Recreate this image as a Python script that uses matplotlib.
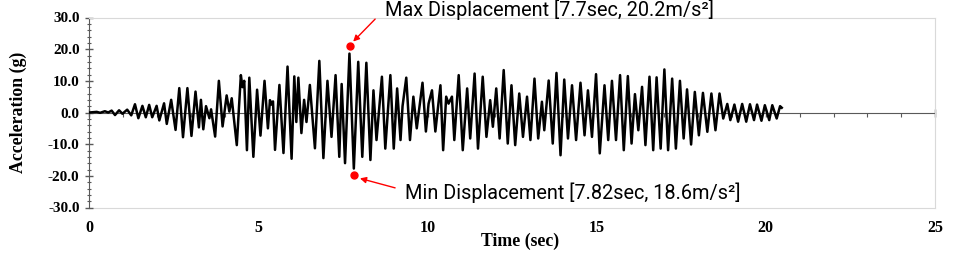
"""Acceleration time history with max/min markers."""
import matplotlib
matplotlib.use("Agg")
import matplotlib.pyplot as plt
from matplotlib.ticker import MultipleLocator

# peaks and troughs
time_s = [
    0.00, 0.22, 0.32, 0.46, 0.56, 0.66, 0.76, 0.88, 0.98, 1.12, 1.24,
    1.35, 1.45, 1.57, 1.67, 1.77, 1.86, 1.99, 2.07, 2.21, 2.29, 2.42, 2.55,
    2.66, 2.77, 2.90, 3.02, 3.14, 3.24, 3.30, 3.37, 3.45, 3.55, 3.60, 3.72,
    3.83, 3.94, 4.06, 4.14, 4.21, 4.36, 4.48, 4.53, 4.58, 4.66, 4.73, 4.85,
    4.96, 5.06, 5.18, 5.28, 5.34, 5.39, 5.43, 5.49, 5.62, 5.74, 5.86, 5.98,
    6.06, 6.12, 6.18, 6.27, 6.35, 6.42, 6.52, 6.67, 6.80, 6.92, 7.04, 7.16,
    7.28, 7.39, 7.46, 7.56, 7.69, 7.82, 7.95, 8.07, 8.19, 8.31, 8.40, 8.49,
    8.65, 8.75, 8.90, 9.00, 9.10, 9.20, 9.26, 9.37, 9.48, 9.58, 9.68, 9.85,
    9.95, 10.03, 10.13, 10.23, 10.38, 10.46, 10.55, 10.62, 10.72, 10.79,
    10.92, 11.04, 11.17, 11.26, 11.39, 11.49, 11.63, 11.74, 11.85, 11.93,
    12.03, 12.13, 12.25, 12.37, 12.48, 12.59, 12.71, 12.82, 12.94, 13.04,
    13.16, 13.27, 13.38, 13.45, 13.58, 13.70, 13.81, 13.93, 14.04, 14.15,
    14.27, 14.39, 14.52, 14.64, 14.74, 14.86, 14.98, 15.09, 15.23, 15.34,
    15.45, 15.57, 15.69, 15.80, 15.92, 16.03, 16.13, 16.23, 16.34, 16.44,
    16.56, 16.67, 16.77, 16.89, 17.00, 17.11, 17.23, 17.34, 17.46, 17.57,
    17.67, 17.79, 17.90, 18.02, 18.14, 18.27, 18.39, 18.51, 18.63, 18.74,
    18.86, 18.95, 19.07, 19.18, 19.30, 19.42, 19.53, 19.65, 19.74, 19.87,
    19.97, 20.10, 20.19, 20.32, 20.42, 20.47,
]
accel_g = [
    0.0, 0.2, -0.1, 0.4, 0.0, 0.6, -0.8, 0.7, -0.4, 0.9, -0.9,
    2.6, -1.8, 2.1, -1.5, 2.4, -1.5, 2.1, -2.5, 2.9, -3.6, 4.0, -5.5,
    7.7, -7.8, 7.7, -7.4, 6.6, -4.7, 4.0, -5.3, 2.0, -1.8, 1.0, -7.6,
    10.0, -4.4, 5.4, 0.3, 4.5, -10.3, 11.8, 8.0, 10.0, -11.9, 11.0, -14.0,
    7.2, -7.3, 10.0, -5.0, 3.9, 2.5, 3.5, -11.8, 8.7, -12.8, 14.5, -14.6,
    11.4, -3.0, 11.0, -6.5, 4.0, -3.0, 8.7, -11.3, 16.3, -14.4, 10.0, -7.7,
    11.8, -14.0, 9.0, -16.0, 18.6, -17.7, 16.0, -14.0, 15.7, -15.0, 7.0, -8.7,
    11.3, -11.4, 11.8, -11.4, 7.6, -8.7, 2.0, 11.0, -8.7, 5.0, -5.0, 9.4,
    -6.0, 2.8, 7.0, -6.0, 8.6, -11.9, 5.0, 2.8, 5.0, -8.7,
    11.8, -11.9, 7.6, -8.2, 12.3, -11.4, 11.3, -7.7, 3.9, -4.5,
    7.6, -8.2, 13.4, -9.8, 8.6, -10.3, 6.0, -7.7, 5.0, -8.7,
    10.7, -8.2, 3.4, -5.6, 10.1, -9.8, 12.5, -13.5, 10.4, -8.2,
    8.6, -8.7, 9.4, -7.2, 7.0, -7.7, 12.1, -12.9, 8.6, -8.7,
    10.0, -8.7, 11.8, -11.9, 11.5, -9.8, 5.8, -5.6, 8.1, -10.3,
    11.3, -11.9, 11.1, -11.4, 13.6, -11.9, 10.7, -11.4, 10.0, -8.2,
    7.3, -10.1, 6.5, -7.2, 6.2, -6.1, 6.0, -5.6, 6.0, -1.9,
    2.7, -2.4, 2.5, -2.9, 2.7, -2.9, 2.6, -2.4, 2.5, -2.6,
    2.3, -2.4, 2.3, -1.9, 2.0, 1.5,
]

max_point = (7.70, 21.0)
min_point = (7.82, -19.7)
max_label = "Max Displacement [7.7sec, 20.2m/s\u00b2]"
min_label = "Min Displacement [7.82sec, 18.6m/s\u00b2]"

x_ticks = [0, 5, 10, 15, 20, 25]
y_ticks = [-30, -20, -10, 0, 10, 20, 30]

SERIF = "Liberation Serif"
NOTE_FONT = ["Roboto", "DejaVu Sans"]
AXIS_GREY = "#595959"
FRAME_GREY = "#d9d9d9"

fig = plt.figure(figsize=(9.54, 2.62), dpi=100)
ax = fig.add_axes([89.3 / 954, 1 - 207.5 / 262, 845.7 / 954, 190 / 262])

ax.plot(time_s, accel_g, color="black", linewidth=1.8, solid_joinstyle="round", zorder=3)

ax.set_xlim(0, 25)
ax.set_ylim(-30, 30)

# frame: light grey box, dark y axis, dark x axis through zero
for side in ("top", "right"):
    ax.spines[side].set_color(FRAME_GREY)
ax.spines["left"].set_color(AXIS_GREY)
ax.spines["bottom"].set_position(("data", 0))
ax.spines["bottom"].set_color(AXIS_GREY)
ax.spines["bottom"].set_zorder(2)

ax.set_yticks(y_ticks)
ax.yaxis.set_minor_locator(MultipleLocator(2))
ax.tick_params(axis="y", which="major", direction="inout", length=6, width=1, color=AXIS_GREY, pad=4)
ax.tick_params(axis="y", which="minor", direction="inout", length=3.5, width=0.8, color=AXIS_GREY)
ax.set_yticklabels([f"{v:.1f}" for v in y_ticks], fontfamily=SERIF, fontweight="bold", fontsize=11)

ax.set_xticks(x_ticks)
ax.xaxis.set_minor_locator(MultipleLocator(1))
ax.tick_params(axis="x", which="major", direction="inout", length=6, width=1, color=AXIS_GREY, labelbottom=False)
ax.tick_params(axis="x", which="minor", direction="out", length=3, width=0.8, color=AXIS_GREY)

# tick labels sit on the bottom edge of the frame
secax = ax.secondary_xaxis("bottom")
secax.set_xticks(x_ticks)
secax.set_xticklabels([str(v) for v in x_ticks], fontfamily=SERIF, fontweight="bold", fontsize=11.5)
secax.tick_params(length=0, pad=9)
secax.spines["bottom"].set_color(FRAME_GREY)

fig.text(519.7 / 954, 1 - 241.5 / 262, "Time (sec)", ha="center", va="center",
         fontfamily=SERIF, fontweight="bold", fontsize=12.8)
fig.text(18 / 954, 1 - 112 / 262, "Acceleration (g)", ha="center", va="center", rotation=90,
         fontfamily=SERIF, fontweight="bold", fontsize=12.8)

# max / min markers with arrows and notes
ax.plot(*max_point, "o", color="red", markersize=5, zorder=4, clip_on=False)
ax.plot(*min_point, "o", color="red", markersize=5, zorder=4, clip_on=False)
arrow = dict(arrowstyle="-|>", color="red", lw=1.0, mutation_scale=9, shrinkA=0, shrinkB=0)
ax.annotate("", xy=(7.80, 22.4), xytext=(8.45, 29.5), arrowprops=arrow, annotation_clip=False)
ax.annotate("", xy=(8.00, -20.8), xytext=(9.04, -23.8), arrowprops=arrow, annotation_clip=False)

ax.text(8.74, 32.3, max_label, ha="left", va="center", fontfamily=NOTE_FONT, fontsize=14.3, clip_on=False)
ax.text(9.33, -25.3, min_label, ha="left", va="center", fontfamily=NOTE_FONT, fontsize=14.3, clip_on=False)

fig.savefig("out.png", dpi=100, facecolor="white")
